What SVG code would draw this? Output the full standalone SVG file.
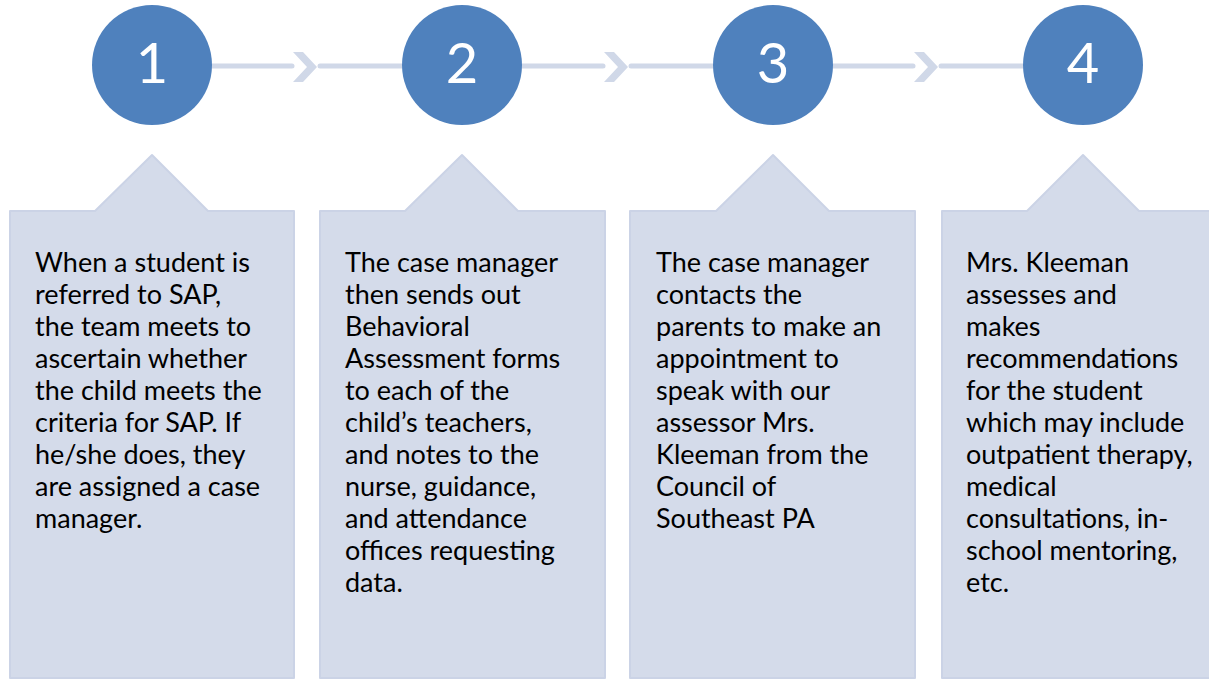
<svg xmlns="http://www.w3.org/2000/svg" width="1209" height="679" viewBox="0 0 1209 679">
<style>
.box{fill:#D4DBEA;stroke:#CBD3E6;stroke-width:2;stroke-linejoin:round}
.circ{fill:#4F81BD}
.num{font-family:Lato,"Liberation Sans",sans-serif;font-size:56px;fill:#FFFFFF;text-anchor:middle}
.txt{font-family:Lato,"Liberation Sans",sans-serif;font-size:27px;fill:#000000}
.line{stroke:#D0D8E8;stroke-width:5;stroke-linecap:round;fill:none}
.chev{fill:#D0D8E8}
</style>
<rect width="1209" height="679" fill="#FFFFFF"/>
<g id="connectors">
<line class="line" x1="212" y1="66" x2="292" y2="66"/>
<polygon class="chev" points="293,52 303,52 317,67 303,82 293,82 307,67"/>
<line class="line" x1="320" y1="66" x2="402" y2="66"/>
<line class="line" x1="522" y1="66" x2="603" y2="66"/>
<polygon class="chev" points="604,52 614,52 628,67 614,82 604,82 618,67"/>
<line class="line" x1="631" y1="66" x2="713" y2="66"/>
<line class="line" x1="833" y1="66" x2="913" y2="66"/>
<polygon class="chev" points="914,52 924,52 938,67 924,82 914,82 928,67"/>
<line class="line" x1="941" y1="66" x2="1023" y2="66"/>
</g>
<g id="step1">
<circle class="circ" cx="152" cy="65" r="60"/>
<text class="num" x="152" y="83">1</text>
</g>
<g id="step2">
<circle class="circ" cx="462" cy="65" r="60"/>
<text class="num" x="462" y="83">2</text>
</g>
<g id="step3">
<circle class="circ" cx="773" cy="65" r="60"/>
<text class="num" x="773" y="83">3</text>
</g>
<g id="step4">
<circle class="circ" cx="1083" cy="65" r="60"/>
<text class="num" x="1083" y="83">4</text>
</g>
<g id="box1">
<path class="box" d="M10,211 H95 L152,155 L208,211 H294 V678 H10 Z"/>
<text class="txt">
<tspan x="35" y="272">When a student is</tspan>
<tspan x="35" y="304">referred to SAP,</tspan>
<tspan x="35" y="336">the team meets to</tspan>
<tspan x="35" y="368">ascertain whether</tspan>
<tspan x="35" y="400">the child meets the</tspan>
<tspan x="35" y="432">criteria for SAP. If</tspan>
<tspan x="35" y="464">he/she does, they</tspan>
<tspan x="35" y="496">are assigned a case</tspan>
<tspan x="35" y="528">manager.</tspan>
</text>
</g>
<g id="box2">
<path class="box" d="M320,211 H405 L462,155 L518,211 H605 V678 H320 Z"/>
<text class="txt">
<tspan x="345" y="272">The case manager</tspan>
<tspan x="345" y="304">then sends out</tspan>
<tspan x="345" y="336">Behavioral</tspan>
<tspan x="345" y="368">Assessment forms</tspan>
<tspan x="345" y="400">to each of the</tspan>
<tspan x="345" y="432">child’s teachers,</tspan>
<tspan x="345" y="464">and notes to the</tspan>
<tspan x="345" y="496">nurse, guidance,</tspan>
<tspan x="345" y="528">and attendance</tspan>
<tspan x="345" y="560">offices requesting</tspan>
<tspan x="345" y="592">data.</tspan>
</text>
</g>
<g id="box3">
<path class="box" d="M630,211 H716 L773,155 L829,211 H915 V678 H630 Z"/>
<text class="txt">
<tspan x="656" y="272">The case manager</tspan>
<tspan x="656" y="304">contacts the</tspan>
<tspan x="656" y="336">parents to make an</tspan>
<tspan x="656" y="368">appointment to</tspan>
<tspan x="656" y="400">speak with our</tspan>
<tspan x="656" y="432">assessor Mrs.</tspan>
<tspan x="656" y="464">Kleeman from the</tspan>
<tspan x="656" y="496">Council of</tspan>
<tspan x="656" y="528">Southeast PA</tspan>
</text>
</g>
<g id="box4">
<path class="box" d="M942,211 H1027 L1083,155 L1139,211 H1226 V678 H942 Z"/>
<text class="txt">
<tspan x="966" y="272">Mrs. Kleeman</tspan>
<tspan x="966" y="304">assesses and</tspan>
<tspan x="966" y="336">makes</tspan>
<tspan x="966" y="368">recommendations</tspan>
<tspan x="966" y="400">for the student</tspan>
<tspan x="966" y="432">which may include</tspan>
<tspan x="966" y="464">outpatient therapy,</tspan>
<tspan x="966" y="496">medical</tspan>
<tspan x="966" y="528">consultations, in-</tspan>
<tspan x="966" y="560">school mentoring,</tspan>
<tspan x="966" y="592">etc.</tspan>
</text>
</g>
</svg>
